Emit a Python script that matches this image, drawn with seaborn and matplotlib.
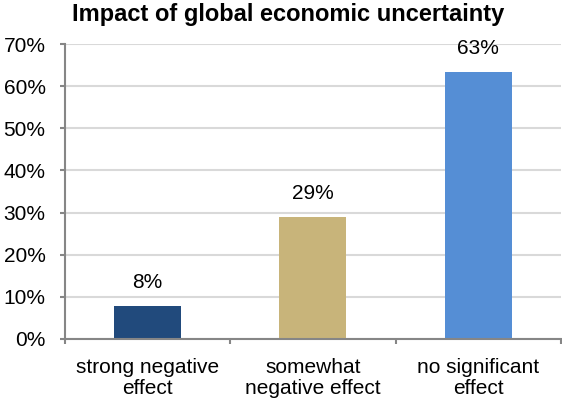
import matplotlib
matplotlib.use("Agg")
import matplotlib.pyplot as plt
import seaborn as sns
from matplotlib.ticker import FuncFormatter, FixedLocator

categories = ["strong negative\neffect", "somewhat\nnegative effect", "no significant\neffect"]
shares = [7.9, 28.9, 63.4]
bar_colors = ["#214A7C", "#C8B47A", "#558ED5"]
y_ticks = [0, 10, 20, 30, 40, 50, 60, 70]

sns.set_theme(style="white")
plt.rcParams["font.family"] = ["Liberation Sans", "DejaVu Sans"]
plt.rcParams["text.color"] = "black"

fig = plt.figure(figsize=(5.62, 4.01), dpi=100)
ax = fig.add_axes([64.5 / 562, 62 / 401, 496.5 / 562, 295 / 401])

sns.barplot(x=categories, y=shares, hue=categories, palette=bar_colors,
            width=0.405, legend=False, ax=ax, saturation=1, linewidth=0)

ax.set_ylim(0, 70)
ax.set_xlim(-0.5, 2.5)
ax.yaxis.set_major_locator(FixedLocator(y_ticks))
ax.yaxis.set_major_formatter(FuncFormatter(lambda v, _: f"{v:.0f}%"))
ax.grid(axis="y", color="#D9D9D9", linewidth=1.5)
ax.set_axisbelow(True)

axis_gray = "#868686"
for side in ("top", "right"):
    ax.spines[side].set_visible(False)
for side in ("left", "bottom"):
    ax.spines[side].set_color(axis_gray)
    ax.spines[side].set_linewidth(1.5)

ax.tick_params(axis="y", which="major", left=True, length=3.6, width=1.5,
               color=axis_gray, labelsize=15, pad=10, labelcolor="black")
ax.tick_params(axis="x", which="major", length=0, labelsize=15, pad=14,
               labelcolor="black")
ax.xaxis.set_minor_locator(FixedLocator([-0.5, 0.5, 1.5, 2.5]))
ax.tick_params(axis="x", which="minor", bottom=True, length=3.6, width=1.5,
               color=axis_gray)
for lbl in ax.get_xticklabels():
    lbl.set_linespacing(1.1)

for container in ax.containers:
    ax.bar_label(container, fmt="%.0f%%", padding=10, fontsize=15, color="black")

ax.set_xlabel("")
ax.set_ylabel("")

fig.text(288.5 / 562, 1 - 20.5 / 401, "Impact of global economic uncertainty",
         ha="center", va="baseline", fontsize=17, fontweight="bold")

fig.savefig("out.png", dpi=100)
